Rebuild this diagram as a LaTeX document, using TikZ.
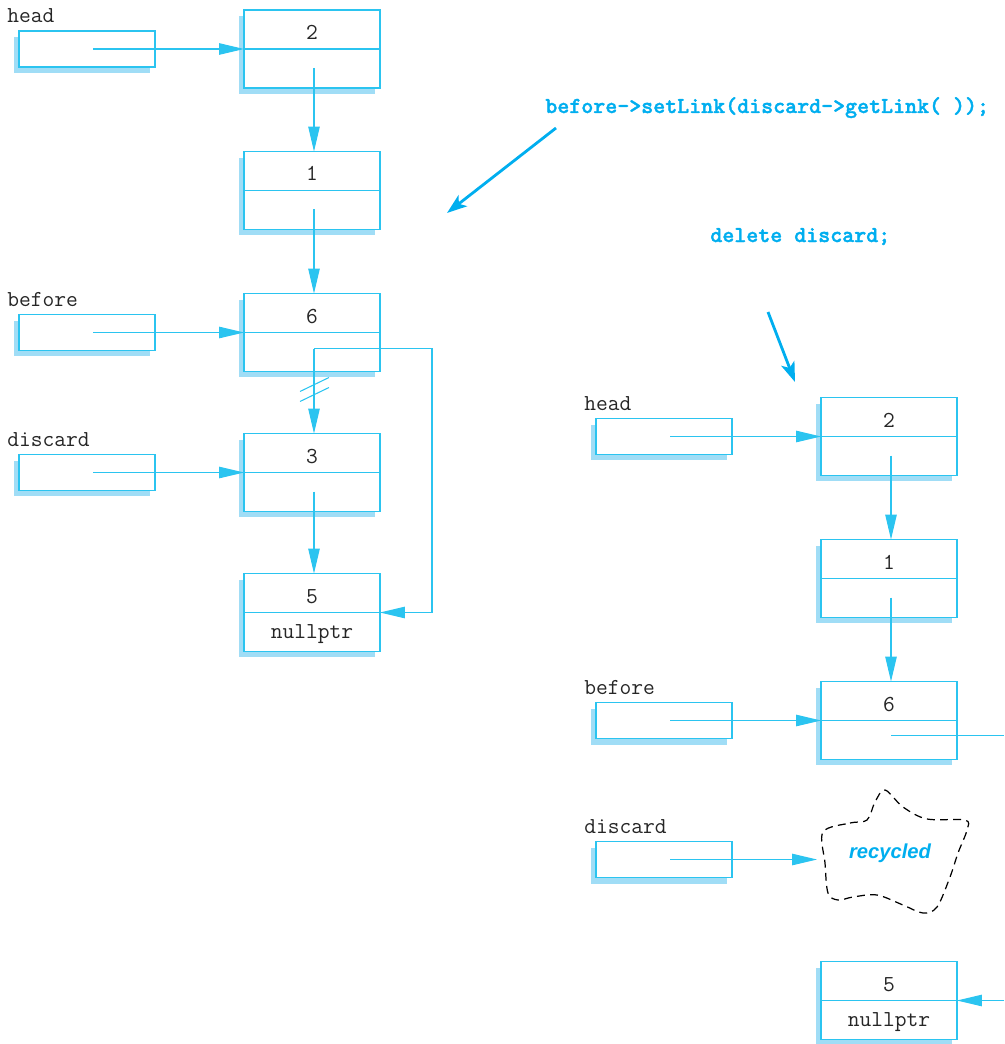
\documentclass[tikz,border=0pt]{standalone}
\usepackage{fontspec}
\newfontfamily\recycfont{Liberation Sans}
\newfontfamily\codefont{lmmonolt10-bold.otf}[FakeBold=1.6]
\usetikzlibrary{arrows.meta,shadows,calc}
\definecolor{boxline}{RGB}{43,196,240}
\definecolor{boxshade}{RGB}{160,221,246}
\definecolor{codeblue}{RGB}{0,174,239}
\tikzset{
  cell/.style={draw=boxline, fill=white, line width=0.75pt,
    minimum width=2.72cm, minimum height=1.56cm, inner sep=0pt, outer sep=0pt,
    drop shadow={shadow xshift=-0.1cm, shadow yshift=-0.12cm, fill=boxshade, opacity=1}},
  ptr/.style={cell, minimum height=0.72cm},
  celltext/.style={font=\fontsize{13}{15}\selectfont\ttfamily, text=black!85,
    inner sep=0pt, anchor=base},
  varname/.style={celltext, anchor=base west},
  wire/.style={draw=boxline, line width=0.6pt},
  link/.style={wire, -{Triangle[length=0.5cm,width=0.23cm]}},
  code/.style={font=\fontsize{13}{15}\selectfont\codefont, text=codeblue,
    inner sep=0pt, anchor=base west},
  codearrow/.style={draw=codeblue, line width=1.6pt,
    -{Stealth[length=0.4cm,width=0.28cm,inset=0.1cm]}},
  recyc/.style={font=\fontsize{11.5}{13}\selectfont\recycfont\bfseries\itshape,
    text=codeblue, inner sep=0pt}
}
\begin{document}
\begin{tikzpicture}[x=0.02cm, y=-0.02cm]
  \useasboundingbox (0,0) rectangle (1004,1044);
  % list before the delete
  \foreach \v/\y in {2/49, 1/190.5, 6/332.5, 3/472.5, 5/612.5}
  { \node[cell] (L\v) at (312,\y) {};
    \draw[wire] (L\v.west) -- (L\v.east);
    \node[celltext] (L\v t) at ($(L\v.center)+(0,-9.5)$) {\v}; }
  \node[celltext] (L5 null) at ($(L5.center)+(0,25.5)$) {nullptr};
  \foreach \p/\y/\t in {head/49/2, before/332.5/6, discard/472.5/3}
  { \node[ptr] (\p L) at (87,\y) {};
    \node[varname] (\p L n) at ($(\p L.west)+(-12,-26)$) {\p};
    \draw[link] ($(\p L.center)+(6,0)$) -- (L\t.west); }
  \foreach \a/\b in {2/1, 1/6, 3/5}
  { \draw[link] ($(L\a.center)+(2,19)$) -- ($(L\b.north)+(2,0)$); }
  \coordinate (L6 out) at ($(L6.center)+(2,16)$);
  \draw[link] (L6 out) -- ($(L3.north)+(2,0)$);
  \draw[link] (L6 out) -- ++(118,0) |- (L5.east);
  \draw[wire] ($(L6.south)+(-12,20)$) -- ++(29,-14);
  \draw[wire] ($(L6.south)+(-12,30)$) -- ++(29,-14);
  % the two statements
  \node[code] (setlink) at (545,113) {before->setLink(discard->getLink( ));};
  \node[code] (deldiscard) at (710,242) {delete discard;};
  \coordinate (setlink from) at (556,128);
  \coordinate (setlink to) at (447,213);
  \coordinate (del from) at (768,312);
  \coordinate (del to) at (795,382);
  \draw[codearrow] (setlink from) -- (setlink to);
  \draw[codearrow] (del from) -- (del to);
  % list after the delete
  \foreach \v/\y in {2/436.5, 1/578.5, 6/720.5, 5/1000.5}
  { \node[cell] (R\v) at (889,\y) {};
    \draw[wire] (R\v.west) -- (R\v.east);
    \node[celltext] (R\v t) at ($(R\v.center)+(0,-9.5)$) {\v}; }
  \node[celltext] (R5 null) at ($(R5.center)+(0,25.5)$) {nullptr};
  \foreach \p/\y/\t in {head/436.5/2, before/720.5/6}
  { \node[ptr] (\p R) at (664,\y) {};
    \node[varname] (\p R n) at ($(\p R.west)+(-12,-26)$) {\p};
    \draw[link] ($(\p R.center)+(6,0)$) -- (R\t.west); }
  \node[ptr] (discard R) at (664,859.5) {};
  \node[varname] (discard R n) at ($(discard R.west)+(-12,-26)$) {discard};
  \foreach \a/\b in {2/1, 1/6}
  { \draw[link] ($(R\a.center)+(2,19)$) -- ($(R\b.north)+(2,0)$); }
  % recycled node
  \draw[black, line width=0.7pt, dash pattern=on 4.5pt off 3pt]
    plot[smooth cycle, tension=0.55] coordinates {(823,832) (850,823) (867,820)
    (875,802) (885,790) (903,807) (927,819) (965,820) (967,830) (958,853)
    (950,877) (937,907) (923,913) (903,905) (877,895) (853,897) (838,900)
    (828,893) (825,863)};
  \node[recyc] (recycled) at (890,853) {recycled};
  \coordinate (cloud in) at (817,859.5);
  \draw[link] ($(discard R.center)+(6,0)$) -- (cloud in);
  \coordinate (R6 exit) at (1004,735.5);
  \coordinate (R5 entry) at (1004,1000.5);
  \draw[wire] ($(R6.center)+(2,15)$) -- (R6 exit);
  \draw[link] (R5 entry) -- (R5.east);
\end{tikzpicture}
\end{document}
